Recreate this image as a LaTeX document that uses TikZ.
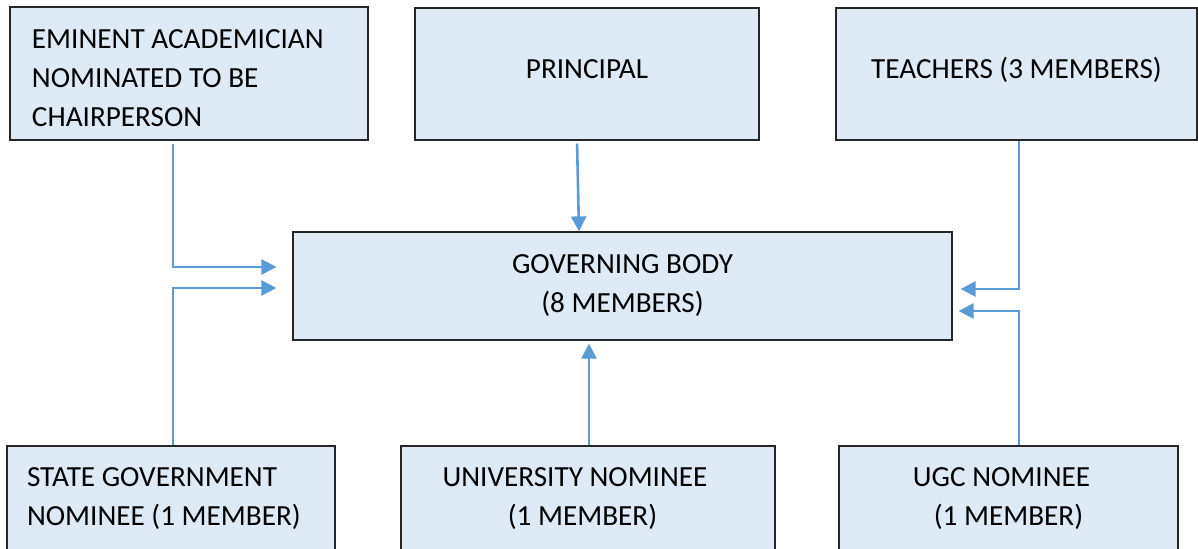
\documentclass[tikz,border=0pt]{standalone}
\usepackage{fontspec}
\setmainfont{Carlito}
\usetikzlibrary{arrows.meta}
\definecolor{boxfill}{HTML}{DEEAF6}
\definecolor{linkblue}{HTML}{5B9BD5}

\begin{document}
\begin{tikzpicture}[x=0.5pt,y=-0.5pt,
    member box/.style={rectangle,draw=black!85,fill=boxfill,line width=0.6pt,
      inner sep=0pt,font=\fontsize{14.6}{19.5}\selectfont},
    top line/.style={text height=10pt,text depth=5.6pt},
    link/.style={draw=linkblue,line width=1.3pt,
      -{Triangle[length=7.5pt,width=7.5pt]}}]

  \clip (0,0) rectangle (1198,549);

  \node[member box,minimum width=179pt,minimum height=66.5pt,
    text width=157pt,align=flush left] (Chair) at (189,73.5)
    {\rule{0pt}{14.4pt}EMINENT ACADEMICIAN\\NOMINATED TO BE\\CHAIRPERSON};
  \node[member box,top line,minimum width=172pt,minimum height=66pt]
    (Principal) at (587,74) {PRINCIPAL};
  \node[member box,top line,minimum width=180.5pt,minimum height=66pt]
    (Teachers) at (1016.5,74) {TEACHERS (3 MEMBERS)};

  \node[member box,minimum width=329.5pt,minimum height=54pt,align=center]
    (Body) at (622.5,286) {GOVERNING BODY\\ (8 MEMBERS)};

  % lower boxes run past the bottom edge
  \node[member box,minimum width=164pt,minimum height=52.5pt,
    text width=144pt,align=flush left] (State) at (171,498.5)
    {STATE GOVERNMENT\\NOMINEE (1 MEMBER)};
  \node[member box,minimum width=187pt,minimum height=52.5pt,align=center]
    (Univ) at (588,498.5)
    {UNIVERSITY NOMINEE\hspace*{13pt}\\(1 MEMBER)\hspace*{5.5pt}};
  \node[member box,minimum width=169.5pt,minimum height=52.5pt,align=center]
    (UGC) at (1008.5,498.5) {UGC NOMINEE\hspace*{7pt}\\ (1 MEMBER)};

  \draw[link,shorten <=1.5pt,shorten >=8pt]
    ([xshift=-8pt]Chair.south) |- ([yshift=9.5pt]Body.west);
  \draw[link,shorten >=8pt]
    ([xshift=1pt]State.north) |- ([yshift=-1pt]Body.west);
  \draw[link,shorten <=1.5pt]
    ([xshift=-5pt]Principal.south) -- ([xshift=-4pt]Principal.south |- Body.north);
  \draw[link,shorten >=1.5pt]
    ([xshift=0.5pt]Univ.north) -- ([xshift=0.5pt]Univ.north |- Body.south);
  \draw[link,shorten >=4pt]
    ([xshift=1.25pt]Teachers.south) |- ([yshift=-1.5pt]Body.east);
  \draw[link,shorten >=3pt]
    ([xshift=5.25pt]UGC.north) |- ([yshift=-12.5pt]Body.east);
\end{tikzpicture}
\end{document}
